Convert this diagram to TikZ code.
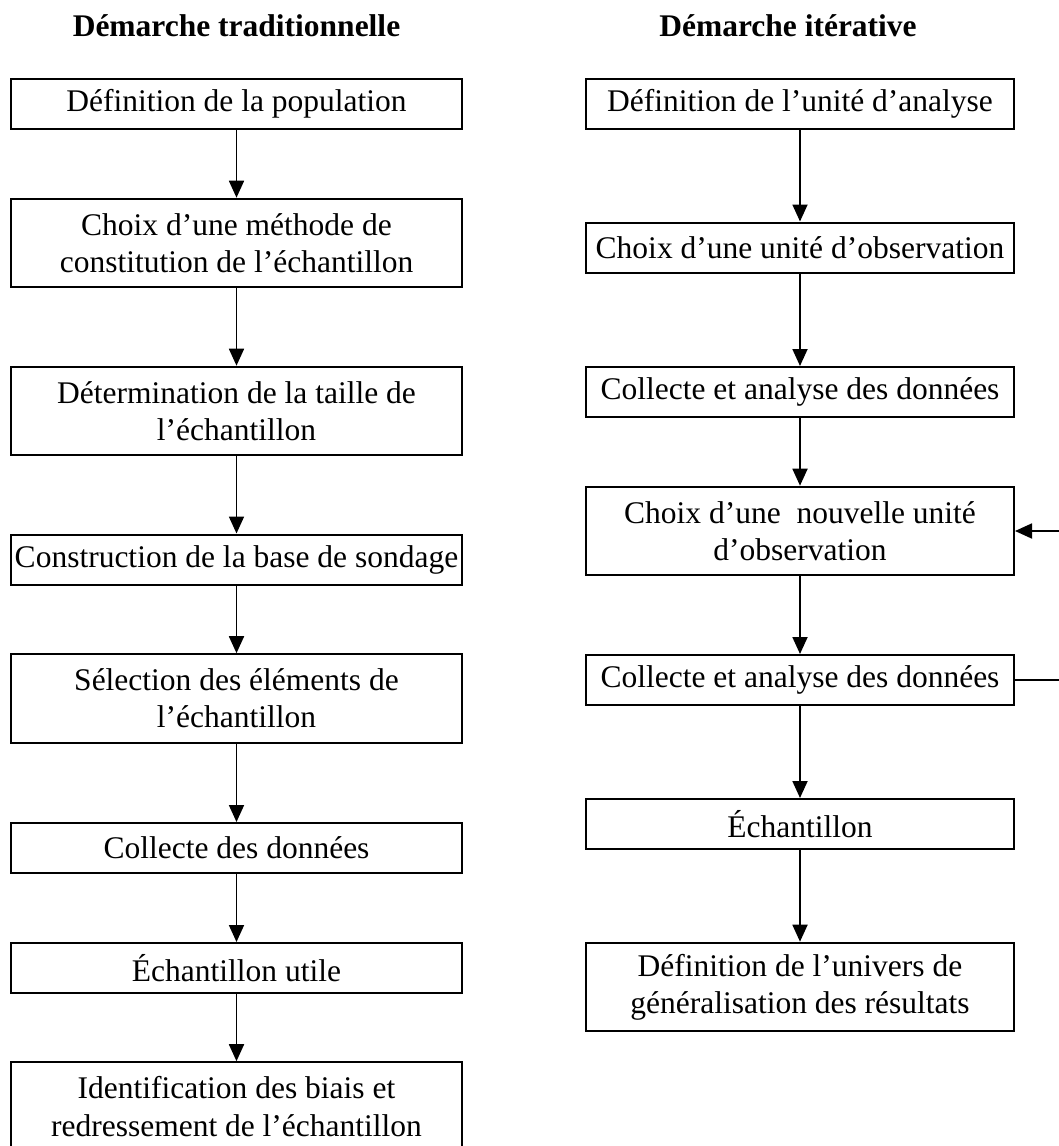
\documentclass[tikz,border=0pt]{standalone}
\usepackage{fontspec}
\setmainfont{Liberation Serif}
\usetikzlibrary{arrows.meta}
\tikzset{
  stepbox/.style={draw, line width=1pt, inner sep=0pt, align=center, font=\fontsize{15.75pt}{18.65pt}\selectfont},
  lbox/.style={stepbox, minimum width=225.5pt},
  rbox/.style={stepbox, minimum width=214pt},
  onel/.style={minimum height=25pt},
  twol/.style={minimum height=44.3pt},
  arr/.style={line width=0.9pt, -{Triangle[length=8.5pt,width=7.5pt]}},
  titletext/.style={font=\fontsize{15.75pt}{18.65pt}\selectfont\bfseries, inner sep=0pt, anchor=base}
}
\begin{document}
\begin{tikzpicture}[x=0.5pt,y=-0.5pt]
\useasboundingbox (0,0) rectangle (1059,1146);
\node[titletext] (tl) at (236.5,36) {Démarche traditionnelle};
\node[titletext] (tr) at (788,36) {Démarche itérative};
% left column
\node[lbox,onel] (L1) at (236.5,104) {Définition de la population};
\node[lbox,twol] (L2) at (236.5,243) {Choix d’une méthode de\\constitution de l’échantillon};
\node[lbox,twol] (L3) at (236.5,411) {Détermination de la taille de\\l’échantillon};
\node[lbox,onel] (L4) at (236.5,559.5) {Construction de la base de sondage};
\node[lbox,twol] (L5) at (236.5,698.5) {Sélection des éléments de\\l’échantillon};
\node[lbox,onel] (L6) at (236.5,848) {Collecte des données};
\node[lbox,onel] (L7) at (236.5,968) {Échantillon utile};
\node[lbox,twol] (L8) at (236.5,1106.5) {Identification des biais et\\redressement de l’échantillon};
% right column
\node[rbox,onel] (R1) at (800,104) {Définition de l’unité d’analyse};
\node[rbox,onel] (R2) at (800,247.5) {Choix d’une unité d’observation};
\node[rbox,onel] (R3) at (800,392) {Collecte et analyse des données};
\node[rbox,twol] (R4) at (800,531) {Choix d’une\ \ nouvelle unité\\d’observation};
\node[rbox,onel] (R5) at (800,680) {Collecte et analyse des données};
\node[rbox,onel] (R6) at (800,824) {Échantillon};
\node[rbox,twol] (R7) at (800,987) {Définition de l’univers de\\généralisation des résultats};
% arrows left
\foreach \a/\b in {L1/L2,L2/L3,L3/L4,L4/L5,L5/L6,L6/L7,L7/L8}
  \draw[arr] (\a.south) -- (\b.north);
% arrows right
\foreach \a/\b in {R1/R2,R2/R3,R3/R4,R4/R5,R5/R6,R6/R7}
  \draw[arr] (\a.south) -- (\b.north);
% feedback loop
\coordinate (loopx) at (1100,0);
\draw[arr] (R5.east) -- (R5.east -| loopx) -- (R4.east -| loopx) -- (R4.east);
\end{tikzpicture}
\end{document}
